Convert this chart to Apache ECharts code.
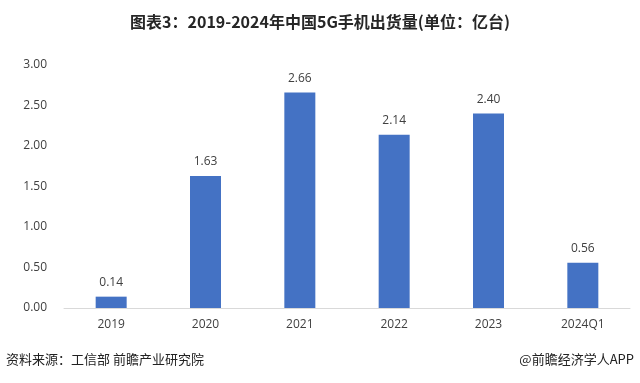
<!DOCTYPE html>
<html><head><meta charset="utf-8">
<script src="https://cdn.jsdelivr.net/npm/echarts@6/dist/echarts.min.js"></script>
<style>html,body{margin:0;padding:0;background:#fff}#c{width:640px;height:383px}</style>
</head><body><div id="c"></div>
<script>
const categories = ['2019','2020','2021','2022','2023','2024Q1'];
const values = [0.14, 1.63, 2.66, 2.14, 2.40, 0.56];
const yTicks = [0, 0.5, 1, 1.5, 2, 2.5, 3];
const titleText = '图表3：2019-2024年中国5G手机出货量(单位：亿台)';
const sourceText = '资料来源：工信部 前瞻产业研究院';
const brandText = '@前瞻经济学人APP';

const chart = echarts.init(document.getElementById('c'), null, {renderer:'canvas'});
chart.setOption({
  backgroundColor:'#fff',
  animation:false,
  title:{text:titleText,left:'center',top:9,textStyle:{fontSize:16,fontWeight:'bold',color:'#262626',fontFamily:'"Noto Sans CJK SC", sans-serif'}},
  graphic:[
    {type:'text',left:6,top:353,style:{text:sourceText,fontSize:13,fill:'#222',fontFamily:'"Noto Sans CJK SC", sans-serif'}},
    {type:'text',right:6,top:353,style:{text:brandText,fontSize:13,fill:'#222',fontFamily:'"Noto Sans CJK SC", sans-serif'}}
  ],
  grid:{left:64,right:10,top:65,bottom:75},
  xAxis:{type:'category',data:categories,
    axisLine:{lineStyle:{color:'#d9d9d9'}},axisTick:{show:false},
    axisLabel:{color:'#404040',fontSize:12,margin:11,fontFamily:'"Open Sans", sans-serif'}},
  yAxis:{type:'value',min:yTicks[0],max:yTicks[yTicks.length-1],interval:0.5,
    splitLine:{show:false},axisLine:{show:false},axisTick:{show:false},
    axisLabel:{color:'#404040',fontSize:12,margin:17,formatter:v=>v.toFixed(2),fontFamily:'"Open Sans", sans-serif'}},
  series:[{type:'bar',data:values,barWidth:31,itemStyle:{color:'#4472C4'},
    label:{show:true,position:'top',distance:8,color:'#404040',fontSize:12,formatter:p=>p.value.toFixed(2),fontFamily:'"Open Sans", sans-serif'}}]
});
</script></body></html>
